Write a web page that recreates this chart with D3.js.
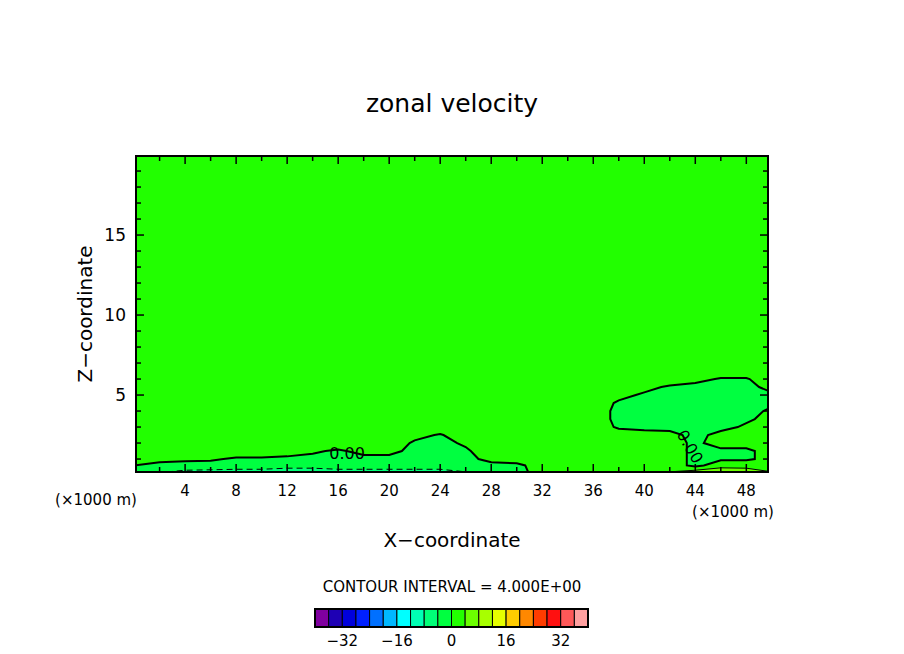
<!DOCTYPE html>
<html>
<head>
<meta charset="utf-8">
<script src="https://cdn.jsdelivr.net/npm/d3@7"></script>
<style>
  body { margin: 0; background: #fff; }
  text { font-family: "DejaVu Sans", sans-serif; fill: #000; }
</style>
</head>
<body>
<svg id="chart" width="904" height="654"></svg>
<script>
// grid columns (x, km) and rows (z, km)
var xCols = [0,2,4,6,8,10,12,14,16,18,20,22,24,26,28,30,32,34,36,38,40,42,44,46,48,50];
var zRows = [0.0,0.6,1.0,1.5,2.0,2.5,3.0,3.5,4.0,4.5,5.0,5.5,6.0,6.5,7.0,20];
// zonal velocity (m/s), one row per z level
var uRows = [
  [-3,-5,-7,-7,-7,-7,-9,-9,-7,-7,-7,-7,-7,-5,-2,-1, 1, 1, 3, 4, 5, 5, 9,10, 9, 5],
  [ 0,-1,-1,-1.5,-2,-2,-2,-2,-2,-2,-2,-2,-2,-2,-1,-0.5, 1,1.5,1.5,2,2,2,-1, 2, 2, 2],
  [ 1, 1,0.5,0.5,-0.5,-0.5,-1,-1,-1.5,-1,-1,-2,-2,-1, 1, 1, 2, 2, 2, 2, 2, 2,-1,-0.5,-0.5, 1],
  [ 2, 2, 2, 2, 2, 2, 2,0.5,-0.5, 1, 1,-1,-1.5,-0.5, 2, 2, 2, 2, 2, 2, 2, 2,-1,-0.5,-0.5, 1],
  [ 2, 2, 2, 2, 2, 2, 2, 2, 2, 2, 2,-0.5,-1,0.5, 2, 2, 2, 2, 2, 2, 2, 1,-0.5, 1, 1, 2],
  [ 2, 2, 2, 2, 2, 2, 2, 2, 2, 2, 2, 1,-0.3, 2, 2, 2, 2, 2, 2, 2,1.5, 1,-1, 1, 1, 2],
  [ 2, 2, 2, 2, 2, 2, 2, 2, 2, 2, 2, 2, 2, 2, 2, 2, 2, 2, 2,-0.5,-1,-1,-1.5,-1,0.5,1.5],
  [ 2, 2, 2, 2, 2, 2, 2, 2, 2, 2, 2, 2, 2, 2, 2, 2, 2, 2, 2,-1,-1.5,-1.5,-1.5,-1.5,-0.5, 1],
  [ 2, 2, 2, 2, 2, 2, 2, 2, 2, 2, 2, 2, 2, 2, 2, 2, 2, 2, 2,-1,-1,-1,-1,-1,-1,0.5],
  [ 2, 2, 2, 2, 2, 2, 2, 2, 2, 2, 2, 2, 2, 2, 2, 2, 2, 2, 2,-0.5,-1.5,-1.5,-1.5,-1.5,-1.5,-0.5],
  [ 2, 2, 2, 2, 2, 2, 2, 2, 2, 2, 2, 2, 2, 2, 2, 2, 2, 2, 2, 1,-0.5,-1,-1.5,-1.5,-1,-0.5],
  [ 2, 2, 2, 2, 2, 2, 2, 2, 2, 2, 2, 2, 2, 2, 2, 2, 2, 2, 2, 2, 1,-0.5,-1,-1,-1, 1],
  [ 2, 2, 2, 2, 2, 2, 2, 2, 2, 2, 2, 2, 2, 2, 2, 2, 2, 2, 2, 2, 2, 2, 1,-0.3,-0.3, 2],
  [ 2, 2, 2, 2, 2, 2, 2, 2, 2, 2, 2, 2, 2, 2, 2, 2, 2, 2, 2, 2, 2, 2, 2, 2, 2, 2],
  [ 2, 2, 2, 2, 2, 2, 2, 2, 2, 2, 2, 2, 2, 2, 2, 2, 2, 2, 2, 2, 2, 2, 2, 2, 2, 2],
  [ 2, 2, 2, 2, 2, 2, 2, 2, 2, 2, 2, 2, 2, 2, 2, 2, 2, 2, 2, 2, 2, 2, 2, 2, 2, 2]
];
var levels = d3.range(-40, 41, 4);
var bandColors = ["#8000a0","#1e00b4","#0000dc","#0020ff","#0070ff","#00b8ff","#00ffff","#00ffb4",
  "#00ff78","#00ff40","#22ff00","#6cff00","#a8ff00","#e6ff00","#ffcc00","#ff8800","#ff3c00","#ff1010","#ff5858","#ffa0a0"];
var barLabels = [-32, -16, 0, 16, 32];

var svg = d3.select("#chart");
var L = 136, R = 768, T = 156, B = 472;
var x = d3.scaleLinear().domain([0.15, 49.7]).range([L, R]);
var y = d3.scaleLinear().domain([0.19, 19.94]).range([B, T]);

var nx = xCols.length, ny = zRows.length;
var values = [];
uRows.forEach(function(r) { r.forEach(function(v) { values.push(v); }); });

function lerp(arr, t) {
  t = Math.max(0, Math.min(arr.length - 1, t));
  var i = Math.min(arr.length - 2, Math.floor(t));
  return arr[i] + (arr[i + 1] - arr[i]) * (t - i);
}
var proj = d3.geoTransform({
  point: function(px, py) {
    this.stream.point(x(lerp(xCols, px - 0.5)), y(lerp(zRows, py - 0.5)));
  }
});
var path = d3.geoPath(proj);
var contours = d3.contours().size([nx, ny]).smooth(true).thresholds(levels);
var polys = contours(values);

svg.append("clipPath").attr("id", "clip")
  .append("rect").attr("x", L).attr("y", T).attr("width", R - L).attr("height", B - T);
var g = svg.append("g").attr("clip-path", "url(#clip)");

polys.forEach(function(c, i) {
  if (i >= bandColors.length) return;
  g.append("path").attr("d", path(c)).attr("fill", bandColors[i]).attr("stroke", "none");
});
polys.forEach(function(c) {
  if (c.value === -4 || c.value === 0 || c.value === 4) {
    g.append("path").attr("d", path(c)).attr("fill", "none")
      .attr("stroke", "#000").attr("stroke-width", c.value === 0 ? 2 : 1)
      .attr("stroke-dasharray", c.value < 0 ? "6,4" : null);
  }
});

// contour labels
[[16.7, 1.0, 0], [43.2, 1.6, 60]].forEach(function(p) {
  svg.append("text").attr("transform", "translate(" + x(p[0]) + "," + y(p[1]) + ") rotate(" + p[2] + ")")
    .attr("font-size", 16).attr("text-anchor", "middle").text("0.00");
});

// frame and ticks
svg.append("rect").attr("x", L).attr("y", T).attr("width", R - L).attr("height", B - T)
  .attr("fill", "none").attr("stroke", "#000").attr("stroke-width", 2);
d3.range(2, 50, 2).forEach(function(v) {
  var len = v % 4 === 0 ? 8 : 5;
  svg.append("line").attr("x1", x(v)).attr("x2", x(v)).attr("y1", B).attr("y2", B - len).attr("stroke", "#000").attr("stroke-width", 1.5);
  svg.append("line").attr("x1", x(v)).attr("x2", x(v)).attr("y1", T).attr("y2", T + len).attr("stroke", "#000").attr("stroke-width", 1.5);
  if (v % 4 === 0) svg.append("text").attr("x", x(v)).attr("y", B + 24).attr("text-anchor", "middle").attr("font-size", 15).text(v);
});
d3.range(1, 20, 1).forEach(function(v) {
  var len = v % 5 === 0 ? 8 : 5;
  svg.append("line").attr("x1", L).attr("x2", L + len).attr("y1", y(v)).attr("y2", y(v)).attr("stroke", "#000").attr("stroke-width", 1.5);
  svg.append("line").attr("x1", R).attr("x2", R - len).attr("y1", y(v)).attr("y2", y(v)).attr("stroke", "#000").attr("stroke-width", 1.5);
  if (v % 5 === 0) svg.append("text").attr("x", L - 10).attr("y", y(v) + 6).attr("text-anchor", "end").attr("font-size", 17).text(v);
});

svg.append("text").attr("x", 452).attr("y", 112).attr("text-anchor", "middle").attr("font-size", 25).text("zonal velocity");
svg.append("text").attr("x", 452).attr("y", 547).attr("text-anchor", "middle").attr("font-size", 20).text("X\u2212coordinate");
svg.append("text").attr("transform", "translate(92,314) rotate(-90)").attr("text-anchor", "middle").attr("font-size", 20).text("Z\u2212coordinate");
svg.append("text").attr("x", 96).attr("y", 505).attr("text-anchor", "middle").attr("font-size", 15).text("(\u00d71000 m)");
svg.append("text").attr("x", 733).attr("y", 517).attr("text-anchor", "middle").attr("font-size", 15).text("(\u00d71000 m)");
svg.append("text").attr("x", 452).attr("y", 592).attr("text-anchor", "middle").attr("font-size", 15).text("CONTOUR INTERVAL = 4.000E+00");

// colour bar
var cb = d3.scaleLinear().domain([-40, 40]).range([315, 588]);
bandColors.forEach(function(c, i) {
  svg.append("rect").attr("x", cb(levels[i])).attr("y", 609).attr("width", cb(levels[i + 1]) - cb(levels[i])).attr("height", 18)
    .attr("fill", c).attr("stroke", "#000").attr("stroke-width", 1);
});
svg.append("rect").attr("x", 315).attr("y", 609).attr("width", 273).attr("height", 18).attr("fill", "none").attr("stroke", "#000").attr("stroke-width", 2);
barLabels.forEach(function(v) {
  svg.append("text").attr("x", cb(v)).attr("y", 646).attr("text-anchor", "middle").attr("font-size", 15).text(v === 0 ? "0" : (v < 0 ? "\u2212" + (-v) : v));
});
</script>
</body>
</html>
